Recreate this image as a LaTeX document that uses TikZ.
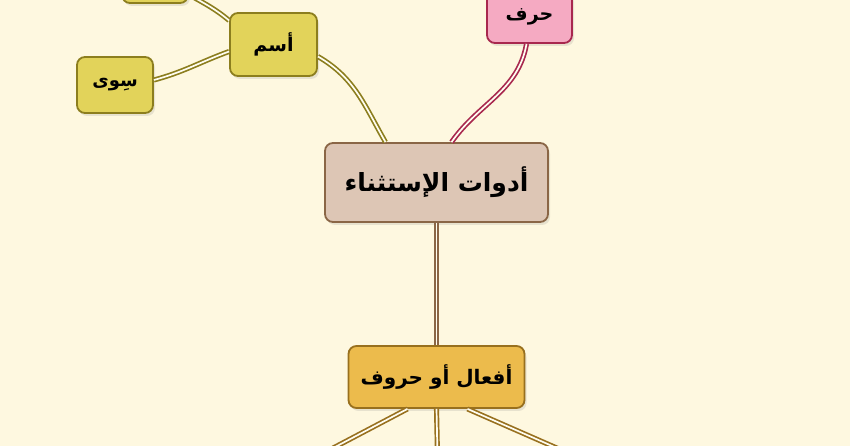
\documentclass[tikz,border=0pt]{standalone}
\usepackage{fontspec}
\newfontfamily\arabicfont[Script=Arabic]{DejaVu Sans}
\TeXXeTstate=1
\usetikzlibrary{shadows}
\definecolor{paper}{HTML}{FEF8E0}
\definecolor{yfill}{HTML}{E2D35A}
\definecolor{ydraw}{HTML}{8C7E1E}
\definecolor{pfill}{HTML}{F5AAC2}
\definecolor{pdraw}{HTML}{A8284E}
\definecolor{cfill}{HTML}{DDC6B5}
\definecolor{cdraw}{HTML}{8A6646}
\definecolor{ofill}{HTML}{ECBB4C}
\definecolor{odraw}{HTML}{98701E}
\definecolor{wire}{HTML}{FFFDF0}
\tikzset{
  box/.style={draw, rounded corners=8pt, line width=1.8pt, inner sep=2pt,
    font=\arabicfont\bfseries,
    drop shadow={opacity=0.18, shadow xshift=2pt, shadow yshift=-3pt}},
  ybox/.style={box, fill=yfill, draw=ydraw},
  link/.style={line width=1.7pt, double=wire, double distance=1.7pt}
}
\begin{document}
\begin{tikzpicture}[x=1pt, y=1pt]
\clip (0,0) rectangle (850,446);
\fill[paper] (0,0) rectangle (850,446);
    \node[ybox, minimum width=66pt, minimum height=56pt] (v0) at (155,471) {};
    \node[ybox, minimum width=76pt, minimum height=56pt, font=\arabicfont\bfseries\fontsize{18}{21}\selectfont] (v1) at (115,361) {\beginR سِوى\endR};
    \node[ybox, minimum width=87pt, minimum height=63pt, font=\arabicfont\bfseries\fontsize{19}{23}\selectfont] (v2) at (273.5,401.5) {\beginR أسم\endR};
    \node[box, fill=pfill, draw=pdraw, minimum width=85pt, minimum height=52pt, font=\arabicfont\bfseries\fontsize{19}{23}\selectfont] (v3) at (529.5,429) {\beginR حرف\endR};
    \node[box, fill=cfill, draw=cdraw, minimum width=223pt, minimum height=79pt, font=\arabicfont\bfseries\fontsize{25}{30}\selectfont] (v4) at (436.5,263.5) {\beginR أدوات الإستثناء\endR};
    \node[box, fill=ofill, draw=odraw, minimum width=176pt, minimum height=62pt, font=\arabicfont\bfseries\fontsize{20}{24}\selectfont] (v5) at (436.5,69) {\beginR أفعال أو حروف\endR};
% end points on the borders
\coordinate (a0) at ([yshift=24pt]v2.west);
\coordinate (a1) at ([yshift=5pt]v1.east);
\coordinate (a2) at ([yshift=-7pt]v2.west);
\coordinate (a3) at ([yshift=-12pt]v2.east);
\coordinate (a4) at ([xshift=-51pt]v4.north);
\coordinate (a5) at ([xshift=-3pt]v3.south);
\coordinate (a6) at ([xshift=15pt]v4.north);
\coordinate (b0) at ([xshift=-29pt]v5.south);
\coordinate (b2) at ([xshift=31pt]v5.south);
\coordinate (w0) at (318,-10);
\coordinate (w1) at (437.5,-10);
\coordinate (w2) at (575,-10);
    \foreach \from/\to/\o/\i in {a0/v0/140/-30, a1/a2/15/200, a3/a4/-30/120}
        \draw[link, draw=ydraw] (\from) to[out=\o, in=\i] (\to);
\draw[link, draw=pdraw] (a5) to[out=-100, in=55] (a6);
\draw[link, draw=cdraw] (v4.south) -- (v5.north);
    \foreach \from/\to in {b0/w0, v5.south/w1, b2/w2}
        \draw[link, draw=odraw] (\from) -- (\to);
\end{tikzpicture}
\end{document}
